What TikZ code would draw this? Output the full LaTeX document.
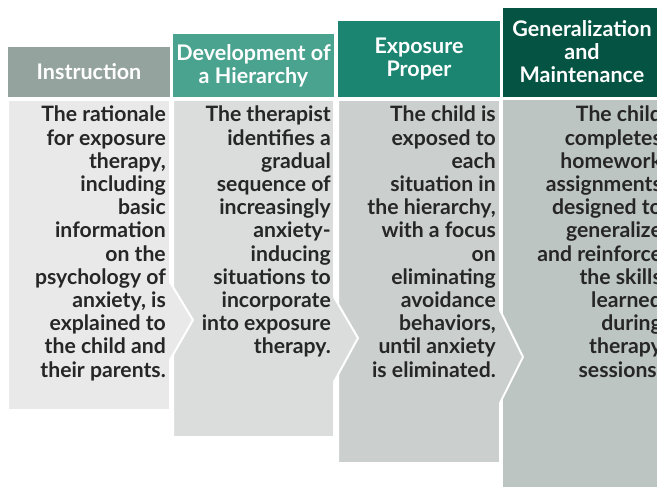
\documentclass[tikz,border=0pt]{standalone}
\usepackage{fontspec}
\setmainfont{Lato}
\definecolor{hA}{HTML}{95A39F}
\definecolor{hB}{HTML}{4AA38F}
\definecolor{hC}{HTML}{1B8572}
\definecolor{hD}{HTML}{055343}
\definecolor{bA}{HTML}{E8E9E8}
\definecolor{bB}{HTML}{DADDDC}
\definecolor{bC}{HTML}{CBD0CF}
\definecolor{bD}{HTML}{BDC5C2}
\definecolor{txt}{HTML}{262626}
\tikzset{
  hdr/.style={text=white, font=\bfseries\fontsize{21.5}{23}\selectfont, align=center, inner sep=0pt},
  bodytxt/.style={text=txt, font=\bfseries\fontsize{21.2}{23.2}\selectfont, align=right, inner sep=0pt, anchor=north east},
  panel/.style={draw=white, line width=2pt, line join=miter}
}
\begin{document}
\begin{tikzpicture}[x=1pt,y=-1pt]
\useasboundingbox (0,0) rectangle (657,487);
\clip (0,0) rectangle (657,487);
% headers
\fill[hA] (8,47) rectangle (170,97);
\fill[hB] (173,34) rectangle (334,97);
\fill[hC] (338,21) rectangle (500,97);
\fill[hD] (503,8) rectangle (670,97);
\node[hdr] (hInstr) at (89,72) {Instruction};
\node[hdr] (hDev) at (253.5,65.5) {Development of\\a Hierarchy};
\node[hdr] (hExp) at (419,59) {Exposure\\Proper};
\node[hdr] (hGen) at (582,52) {Generalization\\and\\Maintenance};
% bodies (back to front)
\fill[bD] (503,100) rectangle (670,500);
\filldraw[panel, fill=bC] (338,100) -- (500,100) -- (500,310) -- (523,357) -- (500,403) -- (500,463) -- (338,463) -- cycle;
\filldraw[panel, fill=bB] (173,100) -- (334,100) -- (334,297) -- (358,338) -- (334,382) -- (334,437) -- (173,437) -- cycle;
\filldraw[panel, fill=bA] (8,100) -- (170,100) -- (170,282) -- (193,320) -- (170,360) -- (170,410) -- (8,410) -- cycle;
% body texts
\node[bodytxt] (tA) at (166,106) {The rationale\\for exposure\\therapy,\\including\\basic\\information\\on the\\psychology of\\anxiety, is\\explained to\\the child and\\their parents.};
\node[bodytxt] (tB) at (331,106) {The therapist\\identifies a\\gradual\\sequence of\\increasingly\\anxiety-\\inducing\\situations to\\incorporate\\into exposure\\therapy.};
\node[bodytxt] (tC) at (496,106) {The child is\\exposed to\\each\\situation in\\the hierarchy,\\with a focus\\on\\eliminating\\avoidance\\behaviors,\\until anxiety\\is eliminated.};
\node[bodytxt] (tD) at (662,106) {The child\\completes\\homework\\assignments\\designed to\\generalize\\and reinforce\\the skills\\learned\\during\\therapy\\sessions.};
\end{tikzpicture}
\end{document}
